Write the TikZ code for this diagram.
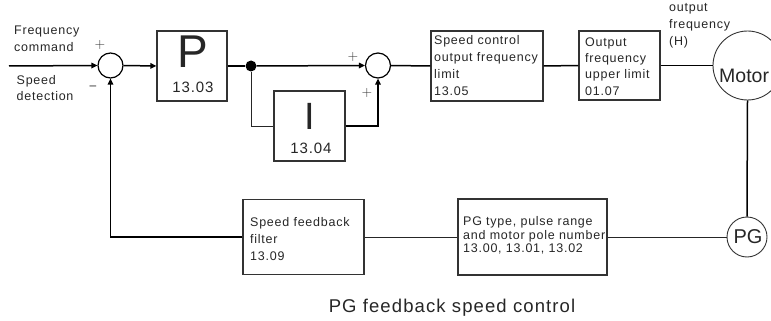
\documentclass[tikz,border=0pt]{standalone}
\usepackage{fontspec}
\setmainfont{Liberation Sans}
\newfontfamily\trk[LetterSpace=6]{Liberation Sans}
\newfontfamily\lmr{Latin Modern Roman}
\usetikzlibrary{arrows.meta}
\begin{document}
\begin{tikzpicture}[x=1pt,y=-1pt,
  box/.style={draw=black!80, line width=1.2pt, inner sep=0pt},
  sum/.style={draw=black, line width=1.2pt, circle, minimum size=25pt, inner sep=0pt},
  wire/.style={line width=1.5pt, black},
  thinwire/.style={line width=1pt, black!85},
  arr/.style={wire, -{Triangle[length=6pt,width=5.5pt]}},
  txt/.style={inner sep=0pt, align=left, anchor=west, text=black!85},
  sm/.style={font=\trk\fontsize{12.5}{16.5}\selectfont},
  sgn/.style={inner sep=0pt, font=\lmr\fontsize{14}{14}\selectfont, text=black!80},
]
\useasboundingbox (0,0) rectangle (771,321);
\clip (0,0) rectangle (771,321);

% input texts
\node[txt, sm] (fc) at (14,39) {Frequency\\command};
\node[txt, sm] (sd) at (16.5,88) {Speed\\detection};
\coordinate (in) at (9,66);

% summing junctions
\node[sum] (s1) at (110.5,65.5) {};
\node[sum] (s2) at (378,65.5) {};
\node[sgn] (p1) at (100,45) {+};
\node[inner sep=0pt, font=\fontsize{12}{12}\selectfont, text=black!85] (m1) at (93,88) {–};
\node[sgn] (p2) at (353,57) {+};
\node[sgn] (p3) at (367,93) {+};

% P block
\node[box, minimum width=70pt, minimum height=70pt] (P) at (192,66) {};
\node[inner sep=0pt, font=\fontsize{46}{46}\selectfont, text=black!85] (Pl) at (193,52) {P};
\node[inner sep=0pt, font=\trk\fontsize{15}{15}\selectfont, text=black!85] (Pn) at (193,87) {13.03};

% branch dot
\node[circle, fill=black, minimum size=11pt, inner sep=0pt] (dot) at (251,66) {};

% I block
\node[box, minimum width=71pt, minimum height=70pt] (I) at (309.5,126) {};
\node[inner sep=0pt, font=\fontsize{38}{38}\selectfont, text=black!85] (Il) at (310,116) {I};
\node[inner sep=0pt, font=\trk\fontsize{15}{15}\selectfont, text=black!85] (In) at (311,148) {13.04};

% speed control limit
\node[box, minimum width=112pt, minimum height=70pt] (SC) at (487,66) {};
\node[txt, sm, font=\trk\fontsize{12.5}{17}\selectfont] (SCt) at (434,66) {Speed control\\output frequency\\limit\\13.05};

% output frequency upper limit
\node[box, minimum width=81pt, minimum height=69pt] (OUT) at (619.5,65.5) {};
\node[txt, sm, font=\trk\fontsize{12.5}{16.3}\selectfont] (OUTt) at (585,66.5) {Output\\frequency\\upper limit\\01.07};

\node[txt, sm, font=\trk\fontsize{12.5}{17}\selectfont] (of) at (669,26) {output\\frequency\\(H)};

% motor
\node[circle, draw=black!80, line width=0.9pt, minimum size=69pt, inner sep=0pt] (M) at (747.5,65.5) {};
\node[inner sep=0pt, anchor=west, font=\fontsize{19.5}{19.5}\selectfont, text=black!85] (Mt) at (719,76) {Motor};

% PG
\node[circle, draw=black!80, line width=0.9pt, minimum size=40pt, inner sep=0pt] (PG) at (747,237) {};
\node[inner sep=0pt, font=\fontsize{20}{20}\selectfont, text=black!85] (PGt) at (748,237) {PG};

% feedback boxes
\node[box, minimum width=149pt, minimum height=76pt] (PGT) at (532.5,237) {};
\node[txt, sm, font=\trk\fontsize{12.5}{13.5}\selectfont] (PGTt) at (463,235.5) {PG type, pulse range\\and motor pole number\\13.00, 13.01, 13.02};
\node[box, minimum width=121pt, minimum height=75pt] (SF) at (303.5,237) {};
\node[txt, sm, font=\trk\fontsize{12.5}{17}\selectfont] (SFt) at (250,239) {Speed feedback\\filter\\13.09};

% caption
\node[inner sep=0pt, font=\trk\fontsize{18.5}{18.5}\selectfont, text=black!85] (cap) at (452,308) {PG feedback speed control};

% connectors
\draw[arr] (in) -- (s1.west);
\draw[arr] (s1.east) -- (P.west);
\draw[wire] (P.east) -- (dot);
\draw[arr] (dot) -- (s2.west);
\draw[thinwire] (dot) |- (I.west);
\draw[arr] (I.east) -| (s2.south);
\draw[wire] (s2.east) -- (SC.west);
\draw[wire] (SC.east) -- (OUT.west);
\draw[wire] (OUT.east) -- (M.west);
\draw[wire] (M.south) -- (PG.north);
\draw[thinwire] (PG.west) -- (PGT.east);
\draw[thinwire] (PGT.west) -- (SF.east);
\draw[arr, line width=1.3pt] (SF.west) -| (s1.south);
\end{tikzpicture}
\end{document}
